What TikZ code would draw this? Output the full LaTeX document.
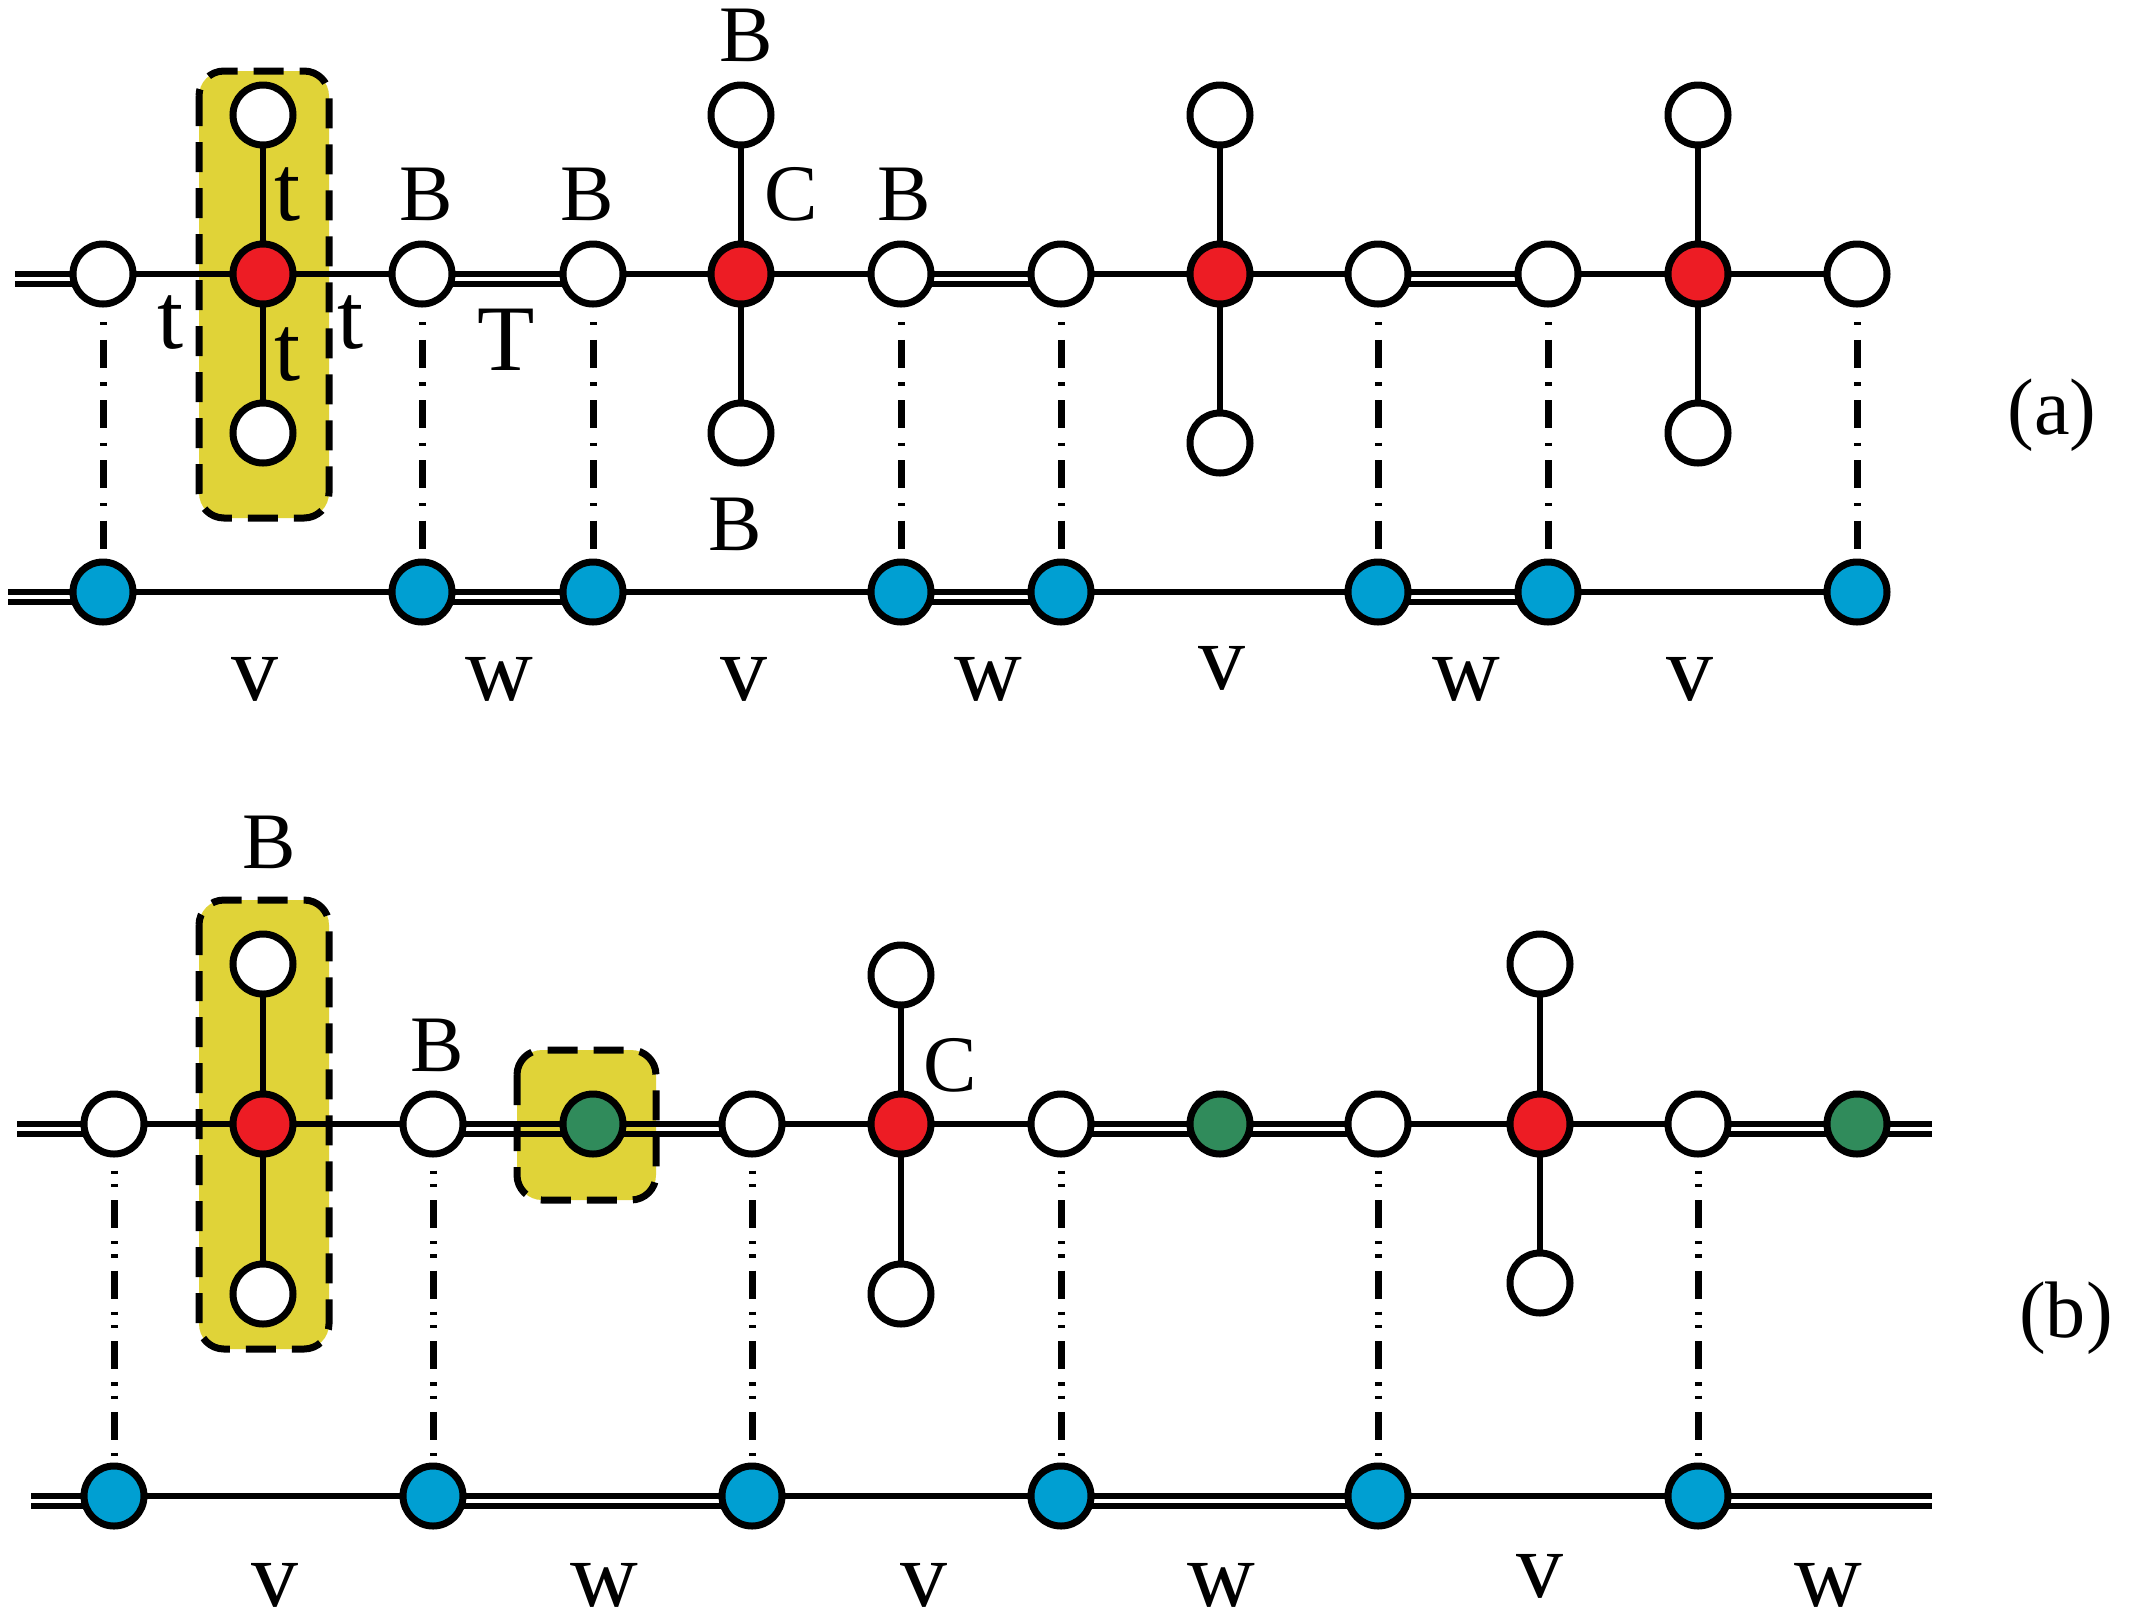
\documentclass[tikz,border=0pt]{standalone}
\usepackage{fontspec}
\setmainfont{Liberation Serif}
\pgfdeclarelayer{boxlayer}
\pgfdeclarelayer{edgelayer}
\pgfsetlayers{boxlayer,edgelayer,main}
\definecolor{nblue}{RGB}{0,159,210}
\definecolor{nred}{RGB}{237,28,36}
\definecolor{ngreen}{RGB}{48,139,91}
\definecolor{byellow}{RGB}{224,211,56}
\tikzset{
  vtx/.style={circle, draw=black, line width=0.7mm, minimum size=6mm, inner sep=0pt},
  wv/.style={vtx, fill=white},
  rv/.style={vtx, fill=nred},
  bv/.style={vtx, fill=nblue},
  gv/.style={vtx, fill=ngreen},
  bond/.style={line width=0.65mm},
  dashdot/.style={line width=0.7mm, dash pattern=on 2.8mm off 1.45mm on 0.33mm off 1.45mm, dash phase=2.8mm},
  dashdotdot/.style={line width=0.7mm, dash pattern=on 2.8mm off 1.3mm on 0.33mm off 1mm on 0.33mm off 1.3mm, dash phase=2.8mm},
  hilite/.style={fill=byellow, draw=black, line width=0.7mm, dash pattern=on 3mm off 1.6mm, rounded corners=2.5mm},
  biglbl/.style={font=\fontsize{26.7pt}{30pt}\selectfont, inner sep=0pt, anchor=base},
  smalllbl/.style={font=\fontsize{22.8pt}{26pt}\selectfont, inner sep=0pt, anchor=base},
}
\newcommand\sbond[2]{\draw[bond] (#1.center) -- (#2.center);}
\newcommand\dbond[2]{\draw[bond] (#1.center) -- (#2.center); \draw[bond] ([yshift=-1mm]#1.center) -- ([yshift=-1mm]#2.center);}
\begin{document}
\begin{tikzpicture}[x=0.1mm,y=-0.1mm]
\useasboundingbox (0,0) rectangle (2133,1617);
% ---------------- panel (a) ----------------
\node[wv] (a1) at (103,274) {};
\node[rv] (a2) at (263,274) {};
\node[wv] (a3) at (422,274) {};
\node[wv] (a4) at (593,274) {};
\node[rv] (a5) at (741,274) {};
\node[wv] (a6) at (901,274) {};
\node[wv] (a7) at (1061,274) {};
\node[rv] (a8) at (1220,274) {};
\node[wv] (a9) at (1378,274) {};
\node[wv] (a10) at (1548,274) {};
\node[rv] (a11) at (1698,274) {};
\node[wv] (a12) at (1857,274) {};
\node[wv] (a2u) at (263,115) {};
\node[wv] (a2d) at (263,433) {};
\node[wv] (a5u) at (741,115) {};
\node[wv] (a5d) at (741,433) {};
\node[wv] (a8u) at (1220,115) {};
\node[wv] (a8d) at (1220,443) {};
\node[wv] (a11u) at (1698,115) {};
\node[wv] (a11d) at (1698,433) {};
\coordinate (sa) at (15,274);
\node[bv] (b1) at (103,592) {};
\node[bv] (b2) at (422,592) {};
\node[bv] (b3) at (593,592) {};
\node[bv] (b4) at (901,592) {};
\node[bv] (b5) at (1061,592) {};
\node[bv] (b6) at (1378,592) {};
\node[bv] (b7) at (1548,592) {};
\node[bv] (b8) at (1857,592) {};
\coordinate (sb) at (8,592);
% ---------------- panel (b) ----------------
\node[wv] (c1) at (114,1124) {};
\node[rv] (c2) at (263,1124) {};
\node[wv] (c3) at (433,1124) {};
\node[gv] (c4) at (593,1124) {};
\node[wv] (c5) at (752,1124) {};
\node[rv] (c6) at (901,1124) {};
\node[wv] (c7) at (1061,1124) {};
\node[gv] (c8) at (1220,1124) {};
\node[wv] (c9) at (1378,1124) {};
\node[rv] (c10) at (1540,1124) {};
\node[wv] (c11) at (1698,1124) {};
\node[gv] (c12) at (1857,1124) {};
\node[wv] (c2u) at (263,964) {};
\node[wv] (c2d) at (263,1294) {};
\node[wv] (c6u) at (901,975) {};
\node[wv] (c6d) at (901,1294) {};
\node[wv] (c10u) at (1540,964) {};
\node[wv] (c10d) at (1540,1283) {};
\coordinate (sc) at (17,1124);
\coordinate (ec) at (1932,1124);
\node[bv] (d1) at (114,1496) {};
\node[bv] (d2) at (433,1496) {};
\node[bv] (d3) at (752,1496) {};
\node[bv] (d4) at (1061,1496) {};
\node[bv] (d5) at (1378,1496) {};
\node[bv] (d6) at (1698,1496) {};
\coordinate (sd) at (31,1496);
\coordinate (ed) at (1932,1496);
% ---------------- highlight boxes ----------------
\begin{pgfonlayer}{boxlayer}
\draw[hilite] (199,71) rectangle (329,518);
\draw[hilite] (199,900) rectangle (329,1349);
\draw[hilite] (517,1050) rectangle (656,1200);
\end{pgfonlayer}
% ---------------- connectors ----------------
\begin{pgfonlayer}{edgelayer}
\dbond{sa}{a1}
\sbond{a1}{a2} \sbond{a2}{a3} \dbond{a3}{a4} \sbond{a4}{a5} \sbond{a5}{a6}
\dbond{a6}{a7} \sbond{a7}{a8} \sbond{a8}{a9} \dbond{a9}{a10} \sbond{a10}{a11} \sbond{a11}{a12}
\sbond{a2u}{a2d} \sbond{a5u}{a5d} \sbond{a8u}{a8d} \sbond{a11u}{a11d}
\dbond{sb}{b1}
\sbond{b1}{b2} \dbond{b2}{b3} \sbond{b3}{b4} \dbond{b4}{b5} \sbond{b5}{b6} \dbond{b6}{b7} \sbond{b7}{b8}
\draw[dashdot] (a1.south) -- (b1.north);
\draw[dashdot] (a3.south) -- (b2.north);
\draw[dashdot] (a4.south) -- (b3.north);
\draw[dashdot] (a6.south) -- (b4.north);
\draw[dashdot] (a7.south) -- (b5.north);
\draw[dashdot] (a9.south) -- (b6.north);
\draw[dashdot] (a10.south) -- (b7.north);
\draw[dashdot] (a12.south) -- (b8.north);
\dbond{sc}{c1}
\sbond{c1}{c2} \sbond{c2}{c3} \dbond{c3}{c4} \dbond{c4}{c5} \sbond{c5}{c6} \sbond{c6}{c7}
\dbond{c7}{c8} \dbond{c8}{c9} \sbond{c9}{c10} \sbond{c10}{c11} \dbond{c11}{c12} \dbond{c12}{ec}
\sbond{c2u}{c2d} \sbond{c6u}{c6d} \sbond{c10u}{c10d}
\dbond{sd}{d1}
\sbond{d1}{d2} \dbond{d2}{d3} \sbond{d3}{d4} \dbond{d4}{d5} \sbond{d5}{d6} \dbond{d6}{ed}
\draw[dashdotdot] (c1.south) -- (d1.north);
\draw[dashdotdot] (c3.south) -- (d2.north);
\draw[dashdotdot] (c5.south) -- (d3.north);
\draw[dashdotdot] (c7.south) -- (d4.north);
\draw[dashdotdot] (c9.south) -- (d5.north);
\draw[dashdotdot] (c11.south) -- (d6.north);
\end{pgfonlayer}
% ---------------- labels (a) ----------------
\node[biglbl] (lt1) at (288,220) {t};
\node[biglbl] (lt2) at (171,348) {t};
\node[biglbl] (lt3) at (288,380) {t};
\node[biglbl] (lt4) at (351,348) {t};
\node[biglbl] (lT) at (506,370) {T};
\node[smalllbl] (lB1) at (426,220) {B};
\node[smalllbl] (lB2) at (587,220) {B};
\node[smalllbl] (lB3) at (746,61) {B};
\node[smalllbl] (lC1) at (791,220) {C};
\node[smalllbl] (lB4) at (904,220) {B};
\node[smalllbl] (lB5) at (735,550) {B};
\node[smalllbl] (la) at (2052,434) {(a)};
\node[biglbl] (av1) at (255,700) {v};
\node[biglbl] (aw1) at (499,700) {w};
\node[biglbl] (av2) at (744,700) {v};
\node[biglbl] (aw2) at (988,700) {w};
\node[biglbl] (av3) at (1222,689) {v};
\node[biglbl] (aw3) at (1466,700) {w};
\node[biglbl] (av4) at (1690,700) {v};
% ---------------- labels (b) ----------------
\node[smalllbl] (lB6) at (269,868) {B};
\node[smalllbl] (lB7) at (437,1071) {B};
\node[smalllbl] (lC2) at (950,1091) {C};
\node[smalllbl] (lb) at (2066,1337) {(b)};
\node[biglbl] (bv1) at (275,1606) {v};
\node[biglbl] (bw1) at (604,1606) {w};
\node[biglbl] (bv2) at (924,1606) {v};
\node[biglbl] (bw2) at (1221,1606) {w};
\node[biglbl] (bv3) at (1540,1597) {v};
\node[biglbl] (bw3) at (1828,1606) {w};
\end{tikzpicture}
\end{document}
